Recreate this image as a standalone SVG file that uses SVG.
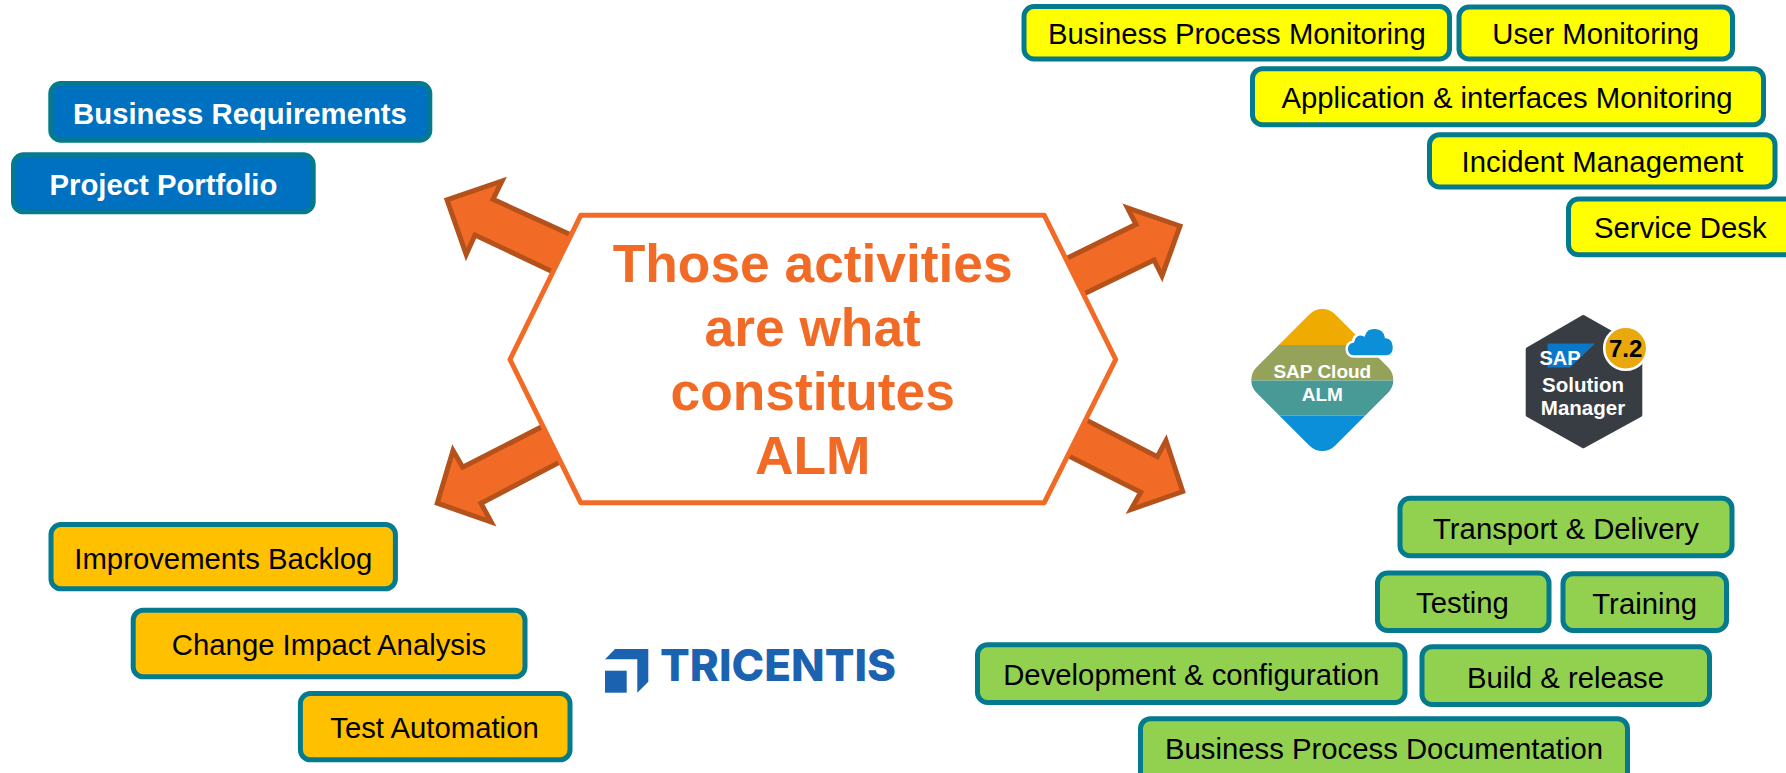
<svg xmlns="http://www.w3.org/2000/svg" width="1786" height="773" viewBox="0 0 1786 773">
<style>
text{font-family:"Liberation Sans",Arial,sans-serif;text-anchor:middle}
.box{stroke:#047A8E;stroke-width:5;rx:10px;ry:10px}
.t{font-size:29.3px;fill:#000}
.y{fill:#FFFF00}.g{fill:#92D050}.o{fill:#FFC000}.b{fill:#0070C0}
.tw{font-size:29.3px;fill:#fff;font-weight:700}
.arrow{fill:#F26B26;stroke:#B5521B;stroke-width:5;stroke-linejoin:miter;stroke-miterlimit:8}
.head{font-size:53.3px;font-weight:700;fill:#F26B26}
.lw{fill:#fff;font-weight:700}
</style>
<defs>
<clipPath id="diamond"><rect x="1266.8" y="324.5" width="111" height="111" rx="18" transform="rotate(45 1322.3 380)"/></clipPath>
</defs>
<rect width="1786" height="773" fill="#fff"/>
<g id="connectors">
<polygon class="arrow" points="447,199.8 502,181 493,199.3 580,239 563,276.7 475,235 466.2,254.5"/>
<polygon class="arrow" points="437.3,503.2 453,450.5 462.7,467.3 551.7,421.7 570,456.7 481,503.3 491.2,522"/>
<polygon class="arrow" points="1180,226 1127.5,207.8 1136,224.3 1056.7,263.3 1075,298.3 1154,260 1162,276"/>
<polygon class="arrow" points="1182.7,491.5 1166,440.5 1157.3,456.7 1076.7,415 1058.3,450.7 1140.7,492.3 1131,509.5"/>
</g>
<g id="center">
<polygon points="580.7,215.3 1044.3,215.3 1115.7,359.5 1044.3,502.7 580.7,502.7 510,359.5" fill="#fff" stroke="#F26B26" stroke-width="5" stroke-linejoin="round"/>
<text class="head" x="812.7" y="281.7">Those activities</text>
<text class="head" x="812.7" y="345.7">are what</text>
<text class="head" x="812.7" y="410">constitutes</text>
<text class="head" x="812.7" y="474">ALM</text>
</g>
<g id="business-requirements"><rect class="box b" x="50.8" y="83.5" width="379" height="56.7"/><text class="tw" x="240" y="124.3">Business Requirements</text></g>
<g id="project-portfolio"><rect class="box b" x="13.5" y="154.8" width="299.7" height="57"/><text class="tw" x="163.4" y="195.3">Project Portfolio</text></g>
<g id="business-process-monitoring"><rect class="box y" x="1024" y="6.5" width="425.5" height="52.5"/><text class="t" x="1236.8" y="44">Business Process Monitoring</text></g>
<g id="user-monitoring"><rect class="box y" x="1459" y="7" width="273.5" height="52"/><text class="t" x="1595.7" y="44">User Monitoring</text></g>
<g id="application-monitoring"><rect class="box y" x="1252.5" y="68.7" width="511" height="56"/><text class="t" x="1507" y="108">Application &amp; interfaces Monitoring</text></g>
<g id="incident-management"><rect class="box y" x="1429.5" y="134.7" width="345.5" height="52.3"/><text class="t" x="1602.5" y="172">Incident Management</text></g>
<g id="service-desk"><rect class="box y" x="1568.5" y="199" width="226.5" height="55.7"/><text class="t" x="1680.3" y="238">Service Desk</text></g>
<g id="transport-delivery"><rect class="box g" x="1400" y="498.3" width="332" height="57.4"/><text class="t" x="1566" y="539">Transport &amp; Delivery</text></g>
<g id="testing"><rect class="box g" x="1377.5" y="573" width="171.5" height="57.4"/><text class="t" x="1462.5" y="613">Testing</text></g>
<g id="training"><rect class="box g" x="1563" y="573.7" width="163.5" height="56.7"/><text class="t" x="1644.7" y="613.6">Training</text></g>
<g id="development-configuration"><rect class="box g" x="977.5" y="644.7" width="427.5" height="57.7"/><text class="t" x="1191.3" y="684.5">Development &amp; configuration</text></g>
<g id="build-release"><rect class="box g" x="1422" y="646.7" width="287.5" height="57.7"/><text class="t" x="1565.5" y="687.5">Build &amp; release</text></g>
<g id="business-process-documentation"><rect class="box g" x="1140.5" y="718.7" width="487" height="68"/><text class="t" x="1384" y="759.3">Business Process Documentation</text></g>
<g id="improvements-backlog"><rect class="box o" x="51" y="524.5" width="344.4" height="64.3"/><text class="t" x="223.3" y="568.7">Improvements Backlog</text></g>
<g id="change-impact-analysis"><rect class="box o" x="133.2" y="610.2" width="391.8" height="66.6"/><text class="t" x="329" y="654.7">Change Impact Analysis</text></g>
<g id="test-automation"><rect class="box o" x="300.4" y="693.5" width="269.6" height="66.3"/><text class="t" x="434.5" y="737.7">Test Automation</text></g>
<g id="sap-cloud-alm">
<g clip-path="url(#diamond)">
<rect x="1240" y="300" width="170" height="45" fill="#F0AB00"/>
<rect x="1240" y="345" width="170" height="35.5" fill="#95A35A"/>
<rect x="1240" y="380.5" width="170" height="35" fill="#489A96"/>
<rect x="1240" y="415.5" width="170" height="50" fill="#0A8FD8"/>
</g>
<path d="M1354,356.5 C1345,356.5 1344,343 1353,341.5 C1354,335 1359,333 1364,335 C1367,324.5 1384,325.5 1386,337 C1396,337 1397,356.5 1387,356.5 Z" fill="#0A8FD8" stroke="#fff" stroke-width="2.5"/>
<text class="lw" x="1322.3" y="378" font-size="19">SAP Cloud</text>
<text class="lw" x="1322.3" y="400.5" font-size="19">ALM</text>
</g>
<g id="solution-manager">
<polygon points="1583.3,317 1640.3,349.3 1640.3,415 1583.3,446.3 1527.7,415 1527.7,349.3" fill="#373D43" stroke="#373D43" stroke-width="4" stroke-linejoin="round"/>
<polygon points="1547.5,343.5 1595,343.5 1570,367.5 1547.5,367.5" fill="#0A78C8"/>
<text class="lw" x="1560" y="365" font-size="20">SAP</text>
<circle cx="1625.7" cy="348.3" r="21.5" fill="#E9A80C" stroke="#fff" stroke-width="2.5"/>
<text x="1625.7" y="357" font-size="24" font-weight="700" fill="#000">7.2</text>
<text class="lw" x="1583" y="391.5" font-size="20.5">Solution</text>
<text class="lw" x="1583" y="415" font-size="20.5">Manager</text>
</g>
<g id="tricentis">
<polygon points="605,659.3 615,649 648.3,649 648.3,681.7 637.3,692.7 637.3,659.3" fill="#1B63B0"/>
<rect x="605" y="670.7" width="21.7" height="22" fill="#1B63B0"/>
<text x="778" y="681" font-size="44" font-weight="800" fill="#1B63B0" textLength="236" lengthAdjust="spacingAndGlyphs" style="font-family:Inter,'Liberation Sans',sans-serif">TRICENTIS</text>
</g>
</svg>
